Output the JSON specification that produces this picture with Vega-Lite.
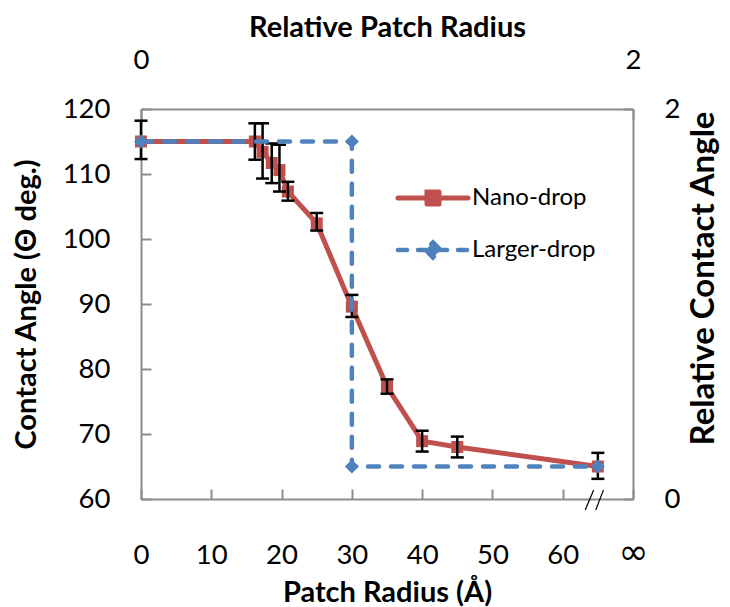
{
  "$schema": "https://vega.github.io/schema/vega-lite/v6.json",
  "autosize": {"type": "none"},
  "width": 492,
  "height": 390,
  "padding": {"left": 141, "top": 109, "right": 97, "bottom": 108},
  "background": "white",
  "config": {
    "view": {"stroke": null},
    "font": "Lato",
    "axis": {
      "grid": false,
      "domainColor": "#8c8c8c",
      "domainWidth": 2,
      "tickColor": "#8c8c8c",
      "tickWidth": 2,
      "tickSize": -10,
      "labelFont": "Lato",
      "labelFontSize": 27.5,
      "labelColor": "black",
      "labelFlush": false,
      "labelOverlap": false,
      "titleFont": "Lato",
      "titleFontSize": 29,
      "titleFontWeight": "bold",
      "titleColor": "black"
    }
  },
  "datasets": {
    "nano": [
      {"s": "Nano-drop", "r": 0, "a": 115.0, "lo": 112.3, "hi": 118.2},
      {"s": "Nano-drop", "r": 16.2, "a": 115.0, "lo": 112.2, "hi": 117.8},
      {"s": "Nano-drop", "r": 17.3, "a": 113.4, "lo": 109.3, "hi": 117.8},
      {"s": "Nano-drop", "r": 18.6, "a": 111.7, "lo": 108.6, "hi": 114.7},
      {"s": "Nano-drop", "r": 19.7, "a": 110.6, "lo": 107.3, "hi": 114.5},
      {"s": "Nano-drop", "r": 20.9, "a": 107.3, "lo": 105.9, "hi": 108.8},
      {"s": "Nano-drop", "r": 25.0, "a": 102.4, "lo": 101.3, "hi": 104.0},
      {"s": "Nano-drop", "r": 30.0, "a": 89.6, "lo": 88.0, "hi": 91.4},
      {"s": "Nano-drop", "r": 35.0, "a": 77.3, "lo": 76.2, "hi": 78.4},
      {"s": "Nano-drop", "r": 40.0, "a": 68.9, "lo": 67.3, "hi": 70.5},
      {"s": "Nano-drop", "r": 45.0, "a": 68.0, "lo": 66.4, "hi": 69.6},
      {"s": "Nano-drop", "r": 65.0, "a": 65.0, "lo": 63.1, "hi": 67.1}
    ],
    "large": [
      {"s": "Larger-drop", "i": 1, "r": 0, "a": 115},
      {"s": "Larger-drop", "i": 2, "r": 30, "a": 115},
      {"s": "Larger-drop", "i": 3, "r": 30, "a": 65},
      {"s": "Larger-drop", "i": 4, "r": 65, "a": 65}
    ],
    "brk": [
      {"r": 63.2, "r2": 64.4, "a": 58.3, "a2": 61.4},
      {"r": 64.7, "r2": 65.8, "a": 58.3, "a2": 61.4}
    ],
    "rel": [
      {"rx": 0, "ry": 0},
      {"rx": 2, "ry": 2}
    ]
  },
  "layer": [
    {
      "layer": [
        {
          "data": {"name": "nano"},
          "mark": {"type": "line", "strokeWidth": 5, "strokeJoin": "round"},
          "encoding": {
            "x": {
              "field": "r", "type": "quantitative",
              "scale": {"domain": [0, 70], "nice": false, "zero": false},
              "axis": {
                "orient": "bottom",
                "title": "Patch Radius (Å)",
                "values": [0, 10, 20, 30, 40, 50, 60, 70],
                "labelExpr": "datum.value == 70 ? '∞' : datum.label",
                "labelFont": {"condition": {"test": "datum.value == 70", "value": "DejaVu Sans"}, "value": "Lato"},
                "labelFontSize": {"condition": {"test": "datum.value == 70", "value": 36}, "value": 27.5},
                "labelBaseline": "alphabetic",
                "labelPadding": 74,
                "titleBaseline": "alphabetic",
                "titleY": 102
              }
            },
            "y": {
              "field": "a", "type": "quantitative",
              "scale": {"domain": [60, 120], "nice": false, "zero": false},
              "axis": {
                "orient": "left",
                "title": "Contact Angle (Θ deg.)",
                "values": [60, 70, 80, 90, 100, 110, 120],
                "labelPadding": 41,
                "titleBaseline": "alphabetic",
                "titleAngle": 270,
                "titleX": -106,
                "titleY": 195
              }
            },
            "color": {
              "field": "s", "type": "nominal",
              "scale": {"domain": ["Nano-drop", "Larger-drop"], "range": ["#C0504D", "#4F81BD"]},
              "legend": {
                "orient": "none",
                "legendX": 280,
                "legendY": 77,
                "title": null,
                "padding": 0,
                "labelFont": "Lato",
                "labelFontSize": 24,
                "labelColor": "black",
                "labelOffset": 27,
                "rowPadding": 19,
                "symbolSize": 100,
                "encode": {
                  "symbols": {
                    "update": {
                      "shape": {"signal": "datum.value === 'Nano-drop' ? 'M-7,0H7M-1.2,-1.2H1.2V1.2H-1.2Z' : 'M-7,0H7M0,-1.5L1.5,0L0,1.5L-1.5,0Z'"},
                      "strokeDash": {"signal": "datum.value === 'Nano-drop' ? [1, 0] : [9, 11]"},
                      "fill": {"signal": "datum.value === 'Nano-drop' ? '#C0504D' : '#4F81BD'"},
                      "stroke": {"signal": "datum.value === 'Nano-drop' ? '#C0504D' : '#4F81BD'"},
                      "strokeWidth": {"signal": "datum.value === 'Nano-drop' ? 5 : 4.5"},
                      "strokeCap": {"value": "round"},
                      "opacity": {"value": 1}
                    }
                  }
                }
              }
            }
          }
        },
        {
          "data": {"name": "nano"},
          "mark": {"type": "point", "shape": "square", "filled": true, "size": 144, "color": "#C0504D", "opacity": 1},
          "encoding": {
            "x": {"field": "r", "type": "quantitative"},
            "y": {"field": "a", "type": "quantitative"}
          }
        },
        {
          "data": {"name": "nano"},
          "mark": {"type": "rule", "color": "black", "strokeWidth": 2.5},
          "encoding": {
            "x": {"field": "r", "type": "quantitative"},
            "y": {"field": "lo", "type": "quantitative"},
            "y2": {"field": "hi"}
          }
        },
        {
          "data": {"name": "nano"},
          "mark": {"type": "rule", "color": "black", "strokeWidth": 2.5, "xOffset": -6.5, "x2Offset": 6.5},
          "encoding": {
            "x": {"field": "r", "type": "quantitative"},
            "x2": {"field": "r"},
            "y": {"field": "hi", "type": "quantitative"}
          }
        },
        {
          "data": {"name": "nano"},
          "mark": {"type": "rule", "color": "black", "strokeWidth": 2.5, "xOffset": -6.5, "x2Offset": 6.5},
          "encoding": {
            "x": {"field": "r", "type": "quantitative"},
            "x2": {"field": "r"},
            "y": {"field": "lo", "type": "quantitative"}
          }
        },
        {
          "data": {"name": "large"},
          "mark": {"type": "line", "strokeWidth": 4.5, "strokeDash": [11, 12], "strokeCap": "round"},
          "encoding": {
            "x": {"field": "r", "type": "quantitative"},
            "y": {"field": "a", "type": "quantitative"},
            "order": {"field": "i", "type": "quantitative"},
            "color": {"field": "s", "type": "nominal", "legend": null}
          }
        },
        {
          "data": {"name": "large"},
          "mark": {"type": "point", "shape": "diamond", "filled": true, "size": 196, "color": "#4F81BD", "opacity": 1},
          "encoding": {
            "x": {"field": "r", "type": "quantitative"},
            "y": {"field": "a", "type": "quantitative"}
          }
        },
        {
          "data": {"name": "brk"},
          "mark": {"type": "rule", "color": "black", "strokeWidth": 1.2},
          "encoding": {
            "x": {"field": "r", "type": "quantitative"},
            "x2": {"field": "r2"},
            "y": {"field": "a", "type": "quantitative"},
            "y2": {"field": "a2"}
          }
        }
      ]
    },
    {
      "data": {"name": "rel"},
      "mark": {"type": "point", "opacity": 0},
      "encoding": {
        "x": {
          "field": "rx", "type": "quantitative",
          "scale": {"domain": [0, 2], "nice": false, "zero": false},
          "axis": {
            "orient": "top",
            "title": "Relative Patch Radius",
            "values": [0, 1, 2],
            "format": "d",
            "labelBaseline": "alphabetic",
            "labelPadding": 51,
            "titleBaseline": "alphabetic",
            "titleY": -73
          }
        },
        "y": {
          "field": "ry", "type": "quantitative",
          "scale": {"domain": [0, 2], "nice": false, "zero": false},
          "axis": {
            "orient": "right",
            "title": "Relative Contact Angle",
            "values": [0, 1, 2],
            "format": "d",
            "labelPadding": 41,
            "titleAngle": 270,
            "titleFontSize": 33,
            "titleBaseline": "alphabetic",
            "titleX": 80,
            "titleY": 169
          }
        }
      }
    }
  ],
  "resolve": {"scale": {"x": "independent", "y": "independent"}}
}
